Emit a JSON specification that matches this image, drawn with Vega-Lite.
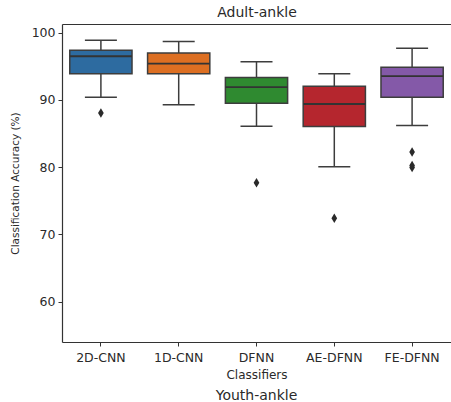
{
  "$schema": "https://vega.github.io/schema/vega-lite/v6.json",
  "width": 389,
  "height": 318,
  "autosize": {"type": "none"},
  "padding": {"left": 62, "top": 24, "right": 0, "bottom": 60},
  "background": "white",
  "config": {
    "view": {"stroke": null},
    "font": "DejaVu Sans",
    "axis": {"grid": false, "domainColor": "#333333", "tickColor": "#333333", "labelColor": "#2a2a2a", "titleColor": "#2a2a2a", "labelFont": "DejaVu Sans", "titleFont": "DejaVu Sans", "titleFontWeight": "normal", "domainWidth": 1.2, "tickWidth": 1, "tickSize": 4}
  },
  "title": {"text": "Youth-ankle", "orient": "bottom", "anchor": "middle", "fontSize": 14, "fontWeight": "normal", "font": "DejaVu Sans", "color": "#2a2a2a", "offset": 8},
  "datasets": {
    "stats": [
      {"classifier": "2D-CNN", "lower": 90.4, "q1": 93.9, "median": 96.5, "q3": 97.4, "upper": 98.9},
      {"classifier": "1D-CNN", "lower": 89.3, "q1": 93.9, "median": 95.4, "q3": 97.0, "upper": 98.7},
      {"classifier": "DFNN", "lower": 86.1, "q1": 89.5, "median": 91.9, "q3": 93.35, "upper": 95.7},
      {"classifier": "AE-DFNN", "lower": 80.05, "q1": 86.05, "median": 89.4, "q3": 92.05, "upper": 93.9},
      {"classifier": "FE-DFNN", "lower": 86.2, "q1": 90.4, "median": 93.55, "q3": 94.85, "upper": 97.7}
    ],
    "outliers": [
      {"classifier": "2D-CNN", "value": 88.05},
      {"classifier": "DFNN", "value": 77.7},
      {"classifier": "AE-DFNN", "value": 72.4},
      {"classifier": "FE-DFNN", "value": 82.25},
      {"classifier": "FE-DFNN", "value": 80.25},
      {"classifier": "FE-DFNN", "value": 79.95}
    ]
  },
  "resolve": {"axis": {"x": "independent"}},
  "layer": [
    {
      "data": {"name": "stats"},
      "mark": {"type": "rule", "color": "#3d3d3d", "strokeWidth": 1.5},
      "encoding": {
        "x": {"field": "classifier", "type": "nominal", "sort": ["2D-CNN", "1D-CNN", "DFNN", "AE-DFNN", "FE-DFNN"],
              "scale": {"type": "band", "paddingInner": 0, "paddingOuter": 0},
              "axis": {"orient": "bottom", "title": "Classifiers", "labelAngle": 0, "labelFontSize": 12.5, "titleFontSize": 12, "labelPadding": 5, "titlePadding": 6}},
        "y": {"field": "lower", "type": "quantitative",
              "scale": {"domain": [54, 101.3], "nice": false, "zero": false},
              "axis": {"values": [60, 70, 80, 90, 100], "title": "Classification Accuracy (%)", "labelFontSize": 12.5, "titleFontSize": 10.5, "labelPadding": 3, "titlePadding": 11}},
        "y2": {"field": "upper"}
      }
    },
    {
      "data": {"name": "stats"},
      "mark": {"type": "bar", "stroke": "#3d3d3d", "strokeWidth": 1.5, "width": {"band": 0.8}},
      "encoding": {
        "x": {"field": "classifier", "type": "nominal", "sort": ["2D-CNN", "1D-CNN", "DFNN", "AE-DFNN", "FE-DFNN"],
              "axis": {"orient": "top", "title": "Adult-ankle", "labels": false, "ticks": false, "titleFontSize": 14, "titlePadding": 5}},
        "y": {"field": "q1", "type": "quantitative"},
        "y2": {"field": "q3"},
        "color": {"field": "classifier", "type": "nominal", "legend": null,
                  "scale": {"domain": ["2D-CNN", "1D-CNN", "DFNN", "AE-DFNN", "FE-DFNN"], "range": ["#2d6ba0", "#dd6f22", "#2f8a30", "#b5262e", "#8459a8"]}}
      }
    },
    {
      "data": {"name": "stats"},
      "mark": {"type": "tick", "color": "#333333", "thickness": 1.8, "size": 62, "opacity": 1},
      "encoding": {
        "x": {"field": "classifier", "type": "nominal", "sort": ["2D-CNN", "1D-CNN", "DFNN", "AE-DFNN", "FE-DFNN"], "axis": null},
        "y": {"field": "median", "type": "quantitative"}
      }
    },
    {
      "data": {"name": "stats"},
      "mark": {"type": "tick", "color": "#3d3d3d", "thickness": 1.5, "size": 32, "opacity": 1},
      "encoding": {
        "x": {"field": "classifier", "type": "nominal", "sort": ["2D-CNN", "1D-CNN", "DFNN", "AE-DFNN", "FE-DFNN"], "axis": null},
        "y": {"field": "lower", "type": "quantitative"}
      }
    },
    {
      "data": {"name": "stats"},
      "mark": {"type": "tick", "color": "#3d3d3d", "thickness": 1.5, "size": 32, "opacity": 1},
      "encoding": {
        "x": {"field": "classifier", "type": "nominal", "sort": ["2D-CNN", "1D-CNN", "DFNN", "AE-DFNN", "FE-DFNN"], "axis": null},
        "y": {"field": "upper", "type": "quantitative"}
      }
    },
    {
      "data": {"name": "outliers"},
      "mark": {"type": "point", "filled": true, "color": "#2a2a2a", "opacity": 1, "size": 90, "shape": "M0,-1L0.6,0L0,1L-0.6,0Z"},
      "encoding": {
        "x": {"field": "classifier", "type": "nominal", "sort": ["2D-CNN", "1D-CNN", "DFNN", "AE-DFNN", "FE-DFNN"], "axis": null},
        "y": {"field": "value", "type": "quantitative"}
      }
    }
  ]
}
